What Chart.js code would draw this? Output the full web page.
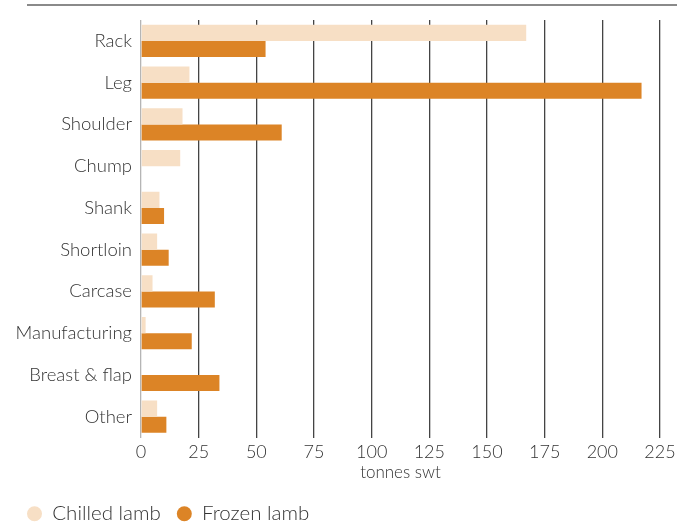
<!DOCTYPE html>
<html>
<head>
<meta charset="utf-8">
<script src="https://cdn.jsdelivr.net/npm/chart.js@4"></script>
<style>
  html, body { margin: 0; padding: 0; background: #fff; }
  #wrap { width: 693px; height: 524px; position: relative; }
</style>
</head>
<body>
<div id="wrap"><canvas id="cutsChart"></canvas></div>
<script>
// Lamb exports by cut, tonnes swt
const cuts = ["Rack", "Leg", "Shoulder", "Chump", "Shank", "Shortloin", "Carcase", "Manufacturing", "Breast & flap", "Other"];
const chilledLamb = [167, 21, 18, 17, 8, 7, 5, 2, 0, 7];
const frozenLamb = [54, 217, 61, 0, 10, 12, 32, 22, 34, 11];
const xTicks = [0, 25, 50, 75, 100, 125, 150, 175, 200, 225];

const textColor = "#333";
const fontFamily = "Lato, 'Open Sans', sans-serif";
const padLeft = 11;

// Thin rule across the top of the figure
const topRule = {
  id: "topRule",
  beforeDraw(chart) {
    const c = chart.ctx;
    c.save();
    c.strokeStyle = "#8a8a8a";
    c.lineWidth = 2;
    c.beginPath();
    c.moveTo(27, 5);
    c.lineTo(677, 5);
    c.stroke();
    c.restore();
  }
};

const ctx = document.getElementById("cutsChart").getContext("2d");
new Chart(ctx, {
  type: "bar",
  data: {
    labels: cuts,
    datasets: [
      {
        label: "Chilled lamb",
        data: chilledLamb,
        backgroundColor: "#F7DFC5",
        barPercentage: 1,
        categoryPercentage: 0.767
      },
      {
        label: "Frozen lamb",
        data: frozenLamb,
        backgroundColor: "#DC8426",
        barPercentage: 1,
        categoryPercentage: 0.767
      }
    ]
  },
  options: {
    indexAxis: "y",
    responsive: true,
    maintainAspectRatio: false,
    animation: false,
    layout: { padding: { top: 20, right: 33, left: padLeft, bottom: -10 } },
    plugins: {
      legend: {
        position: "bottom",
        align: "start",
        labels: {
          usePointStyle: true,
          pointStyle: "circle",
          boxWidth: 15,
          boxHeight: 10.6,
          padding: 16,
          color: textColor,
          font: { family: fontFamily, size: 20.5, weight: 300 }
        }
      },
      tooltip: { enabled: false }
    },
    scales: {
      x: {
        min: 0,
        max: 225,
        afterBuildTicks: axis => { axis.ticks = xTicks.map(v => ({ value: v })); },
        afterFit: axis => { axis.height = 50; },
        border: { display: false },
        grid: {
          color: c => (c.index === 0 ? "#b5b5b5" : "#444"),
          lineWidth: 1.3,
          drawTicks: false
        },
        ticks: {
          color: textColor,
          padding: 4,
          font: { family: fontFamily, size: 18, weight: 300 }
        },
        title: {
          display: true,
          text: "tonnes swt",
          color: textColor,
          padding: { top: 0, bottom: 5 },
          font: { family: fontFamily, size: 17, weight: 300 }
        }
      },
      y: {
        afterFit: axis => { axis.width = 141 - padLeft; },
        border: { display: false },
        grid: { display: false },
        ticks: {
          color: textColor,
          padding: 1,
          font: { family: fontFamily, size: 18.5, weight: 300 }
        }
      }
    }
  },
  plugins: [topRule]
});
</script>
</body>
</html>
